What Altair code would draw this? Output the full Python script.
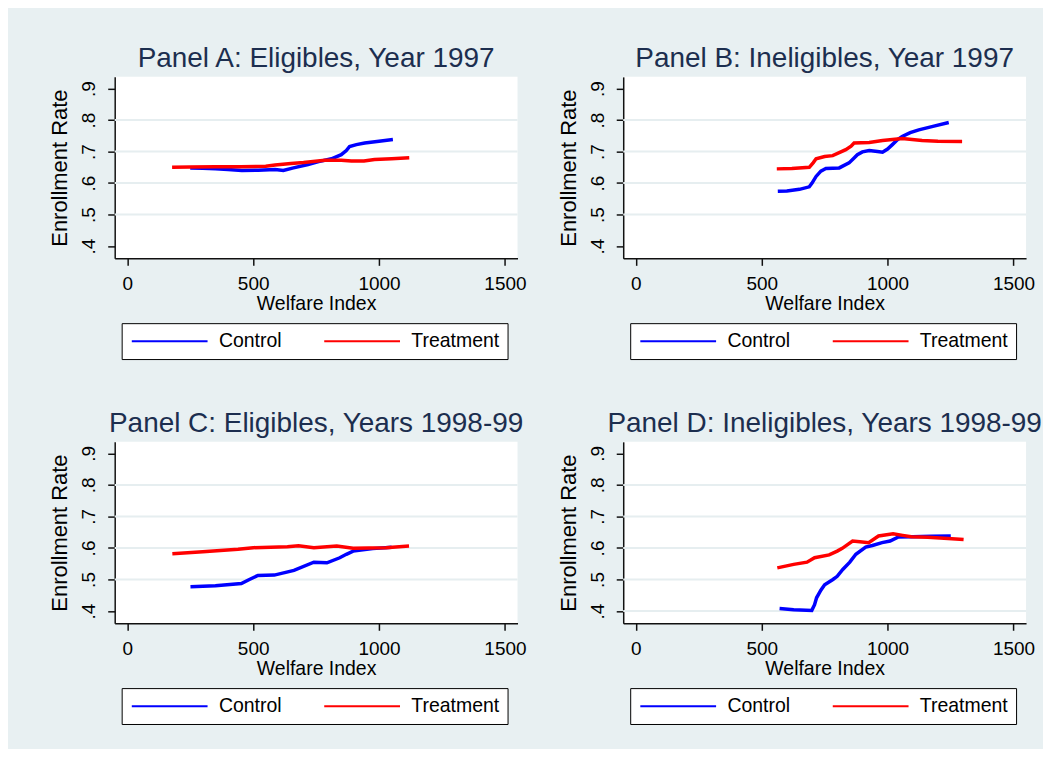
import altair as alt
import pandas as pd

# ---------------- data ----------------
titles = [
    "Panel A: Eligibles, Year 1997",
    "Panel B: Ineligibles, Year 1997",
    "Panel C: Eligibles, Years 1998-99",
    "Panel D: Ineligibles, Years 1998-99",
]

a_ctrl_x = [250, 300, 350, 400, 455, 520, 587, 620, 660, 718, 760, 811, 850, 870, 883, 910, 943, 1000, 1055]
a_ctrl_y = [.648, .647, .645, .643, .640, .641, .643, .640, .648, .659, .668, .677, .690, .703, .716, .722, .727, .733, .738]
a_trt_x = [178, 250, 350, 450, 550, 587, 650, 700, 785, 850, 890, 940, 982, 1050, 1120]
a_trt_y = [.650, .651, .652, .652, .653, .657, .662, .665, .672, .672, .670, .670, .675, .677, .680]

b_ctrl_x = [564, 600, 650, 689, 700, 716, 735, 755, 808, 847, 865, 880, 900, 927, 960, 980, 1000, 1019, 1040, 1058, 1090, 1124, 1180, 1243]
b_ctrl_y = [.574, .575, .580, .588, .600, .621, .638, .646, .648, .664, .678, .690, .699, .703, .700, .698, .708, .722, .738, .748, .760, .769, .780, .792]
b_trt_x = [560, 620, 689, 705, 716, 750, 782, 834, 855, 867, 927, 980, 1058, 1137, 1200, 1296]
b_trt_y = [.645, .646, .650, .665, .677, .684, .687, .706, .717, .727, .729, .735, .741, .735, .733, .732]

c_ctrl_x = [251, 350, 453, 485, 519, 584, 662, 741, 793, 844, 870, 897, 975, 1050]
c_ctrl_y = [.477, .480, .487, .500, .513, .514, .529, .555, .553, .569, .580, .590, .598, .602]
c_trt_x = [179, 300, 440, 500, 636, 680, 741, 832, 897, 960, 1028, 1119]
c_trt_y = [.582, .588, .596, .601, .604, .607, .601, .606, .599, .600, .601, .606]

d_ctrl_x = [571, 627, 699, 710, 718, 735, 750, 783, 800, 822, 850, 874, 913, 940, 978, 1010, 1043, 1100, 1173, 1251]
d_ctrl_y = [.408, .404, .402, .420, .442, .466, .483, .500, .510, .532, .555, .580, .603, .608, .617, .622, .635, .636, .637, .638]
d_trt_x = [562, 627, 680, 710, 768, 800, 820, 861, 890, 925, 964, 1022, 1060, 1094, 1160, 1224, 1302]
d_trt_y = [.537, .548, .555, .569, .578, .590, .599, .622, .620, .617, .638, .645, .640, .636, .634, .631, .627]

groups = ["Control", "Treatment"]
x_ticks = [0, 500, 1000, 1500]
y_ticks = [0.4, 0.5, 0.6, 0.7, 0.8, 0.9]
grid_abc = [0.5, 0.6, 0.7, 0.8]
grid_d = [0.4, 0.5, 0.6, 0.7, 0.8]

FONT = "Liberation Sans"
BG = "#e8f0f2"

xs = alt.Scale(domain=[-50, 1550], nice=False, zero=False)
ys = alt.Scale(domain=[0.361, 0.937], nice=False, zero=False)

x_axis = alt.Axis(values=x_ticks, title="Welfare Index", grid=False, format="d",
                  labelPadding=9, titlePadding=1)
y_axis = alt.Axis(values=y_ticks, title="Enrollment Rate", grid=False, labelAngle=270,
                  labelAlign="center", labelBaseline="bottom", labelPadding=9,
                  titlePadding=8, titleFontSize=22,
                  labelExpr="replace(format(datum.value, '.1f'), '0.', '.')")


def panel(title, cx, cy, tx, ty, grid_vals):
    df = pd.DataFrame({
        "x": cx + tx,
        "y": cy + ty,
        "group": [groups[0]] * len(cx) + [groups[1]] * len(tx),
    })
    gdf = pd.DataFrame({"y": grid_vals})
    rules = alt.Chart(gdf).mark_rule(color="#e6eef0", strokeWidth=2).encode(
        y=alt.Y("y:Q", scale=ys, axis=y_axis)
    )
    lines = alt.Chart(df).mark_line(strokeWidth=3.5).encode(
        x=alt.X("x:Q", scale=xs, axis=x_axis),
        y=alt.Y("y:Q", scale=ys, axis=y_axis),
        color=alt.Color(
            "group:N",
            scale=alt.Scale(domain=groups, range=["#0000ff", "#ff0000"]),
            legend=alt.Legend(
                orient="none", legendX=7, legendY=247, direction="horizontal",
                columns=2, title=None, symbolType="M-1,0H9", symbolSize=231,
                symbolStrokeWidth=2, labelFontSize=19.5, labelFont=FONT,
                labelColor="black", labelOffset=70, columnPadding=38,
                padding=8, strokeColor="black", fillColor="white",
            ),
        ),
    )
    return alt.layer(rules, lines).properties(
        width=404, height=182,
        title=alt.TitleParams(title, fontSize=28, font=FONT, fontWeight="normal",
                              color="#1c2e4f", anchor="middle", frame="group", offset=4),
    )


pa = panel(titles[0], a_ctrl_x, a_ctrl_y, a_trt_x, a_trt_y, grid_abc)
pb = panel(titles[1], b_ctrl_x, b_ctrl_y, b_trt_x, b_trt_y, grid_abc)
pc = panel(titles[2], c_ctrl_x, c_ctrl_y, c_trt_x, c_trt_y, grid_abc)
pd_ = panel(titles[3], d_ctrl_x, d_ctrl_y, d_trt_x, d_trt_y, grid_d)

chart = alt.concat(
    pa, pb, pc, pd_, columns=2, spacing={"row": 184, "column": 106}, bounds="flush"
).resolve_legend(color="independent").properties(
    background=BG,
    padding={"left": 41, "top": 36, "right": 0, "bottom": 23},
).configure_view(
    fill="white", stroke=None
).configure_axis(
    labelFont=FONT, titleFont=FONT, labelFontSize=19, titleFontSize=19.5,
    titleFontWeight="normal", labelColor="black", titleColor="black",
    domainColor="#111111", tickColor="#111111", domainWidth=1.5, tickWidth=1.5,
    tickSize=7,
)

chart.save("out.html", embed_options={"renderer": "svg", "actions": False})
